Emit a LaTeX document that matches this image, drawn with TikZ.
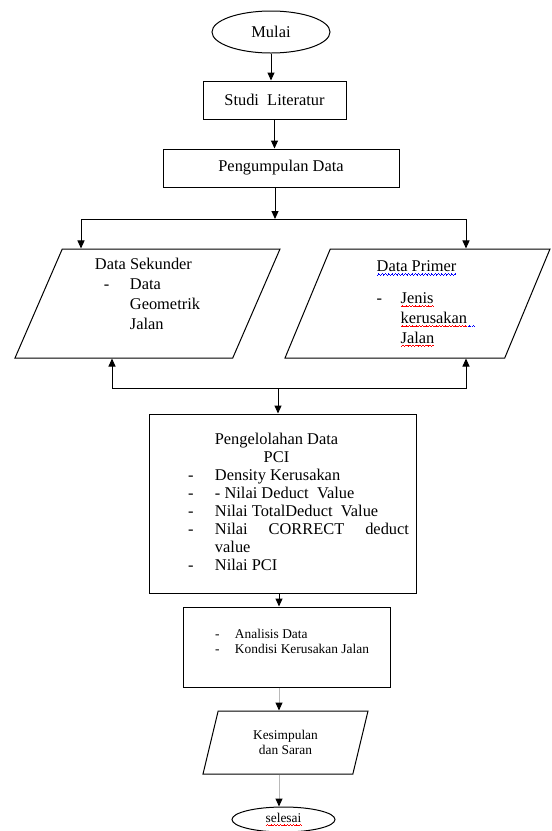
\documentclass[tikz,border=0pt]{standalone}
\usepackage{fontspec}
\setmainfont{Liberation Serif}
\usepackage{xcolor}
\usepackage{tikz}
\usetikzlibrary{shapes.geometric,arrows.meta,positioning}

% wavy spell-check underline
\newsavebox{\spellbox}
\newcommand{\spellwave}[2]{\leavevmode\sbox{\spellbox}{#2}%
  \rlap{\textcolor{#1}{\hbox to \wd\spellbox{\xleaders\hbox{\rule[-3.6pt]{0.8pt}{0.7pt}\rule[-2.9pt]{0.8pt}{0.7pt}\rule[-2.2pt]{0.8pt}{0.7pt}\rule[-2.9pt]{0.8pt}{0.7pt}}\hfill}}}\usebox{\spellbox}}

\begin{document}
\begin{tikzpicture}[x=1pt,y=-1pt,line width=1pt,>={Triangle[width=7pt,length=8pt]},
  big/.style={font=\fontsize{16.4}{18}\selectfont},
  small/.style={font=\fontsize{13.4}{15}\selectfont},
  terminal/.style={draw,ellipse,inner sep=0pt},
  process/.style={draw,rectangle,inner sep=0pt},
  io/.style={draw,trapezium,trapezium stretches body,inner sep=0pt},
  grayline/.style={draw=gray!55,-{Triangle[width=7pt,length=8pt,color=black]}}]
\useasboundingbox (0,0) rectangle (552,831);

% Start, literature and data collection
\node[terminal,big,minimum width=118pt,minimum height=42pt] (mulai) at (271,32) {Mulai};
\node[process,big,minimum width=143pt,minimum height=38pt] (studi) at (274.5,100) {Studi\ \ Literatur};
\node[process,big,minimum width=236pt,minimum height=38pt] (kumpul) at (281,168) {Pengumpulan Data};
\draw[->] (mulai.south) -- (mulai.south |- studi.north);
\draw[->] (studi.south) -- (studi.south |- kumpul.north);

% Secondary and primary data
\node[io,big,trapezium left angle=63.6,trapezium right angle=116.4,minimum width=265pt,minimum height=109pt] (sekunder) at (147.5,303.5) {\def\arraystretch{1.1}\begin{tabular}{@{}l@{\hspace{20.5pt}}l@{}}
\multicolumn{2}{@{}l@{}}{Data Sekunder}\\
\hspace*{9pt}- & Data\\
 & Geometrik\\
 & Jalan\\[16pt]
\end{tabular}};
\node[io,big,trapezium left angle=63.6,trapezium right angle=116.4,minimum width=265pt,minimum height=109pt] (primer) at (417.5,303.5) {\def\arraystretch{1.1}\begin{tabular}{@{\hspace{17pt}}l@{\hspace{18.5pt}}l@{}}
\multicolumn{2}{@{\hspace{17pt}}l@{}}{\spellwave{blue}{Data Primer}}\\[12pt]
- & \spellwave{red}{Jenis}\\
 & \spellwave{red}{kerusakan}\spellwave{blue}{\phantom{n}}\\
 & \spellwave{red}{Jalan}
\end{tabular}};
\coordinate (split) at (275,219);
\coordinate (merge) at (278,388);
\draw[->] (kumpul.south -| split) -- (split);
\draw[->] (split) -| ([xshift=-66.5pt]sekunder.north);
\draw[->] (split) -| ([xshift=48.5pt]primer.north);
\draw[->] (merge) -| ([xshift=-35.5pt]sekunder.south);
\draw[->] (merge) -| ([xshift=48.5pt]primer.south);

% PCI processing
\node[process,big,minimum width=267pt,minimum height=179pt] (olah) at (282.5,503.5) {\begin{tabular}{@{\hspace{32pt}}l@{\hspace{21.5pt}}p{194pt}@{}}
\multicolumn{2}{@{}c@{}}{Pengelolahan Data\hspace*{12pt}}\\
\multicolumn{2}{@{}c@{}}{PCI\hspace*{12pt}}\\
- & Density Kerusakan\\
- & - Nilai Deduct\ \ Value\\
- & Nilai TotalDeduct\ \ Value\\
- & Nilai\hfill CORRECT\hfill deduct\\
 & value\\
- & Nilai PCI
\end{tabular}};
\draw[->] (merge) -- (merge |- olah.north);

% Analysis, conclusion and end
\coordinate (axis) at (279,0);
\node[process,small,minimum width=207pt,minimum height=80pt] (analisis) at (286.5,647) {\begin{tabular}{@{\hspace{11pt}}l@{\hspace{15.5pt}}l@{}}
- & Analisis Data\\
- & Kondisi Kerusakan Jalan\\[8pt]
\end{tabular}};
\node[io,small,trapezium left angle=58.2,trapezium right angle=121.8,minimum width=165pt,minimum height=63pt,align=center] (simpul) at (285.5,742.5) {Kesimpulan\\dan Saran};
\node[terminal,small,minimum width=103pt,minimum height=25pt] (selesai) at (283.5,819.5) {\spellwave{red}{selesai}};
\draw[->] (olah.south -| axis) -- (analisis.north -| axis);
\draw[grayline] (analisis.south -| axis) -- (simpul.north -| axis);
\draw[grayline] (simpul.south -| axis) -- (selesai.north -| axis);
\end{tikzpicture}
\end{document}
